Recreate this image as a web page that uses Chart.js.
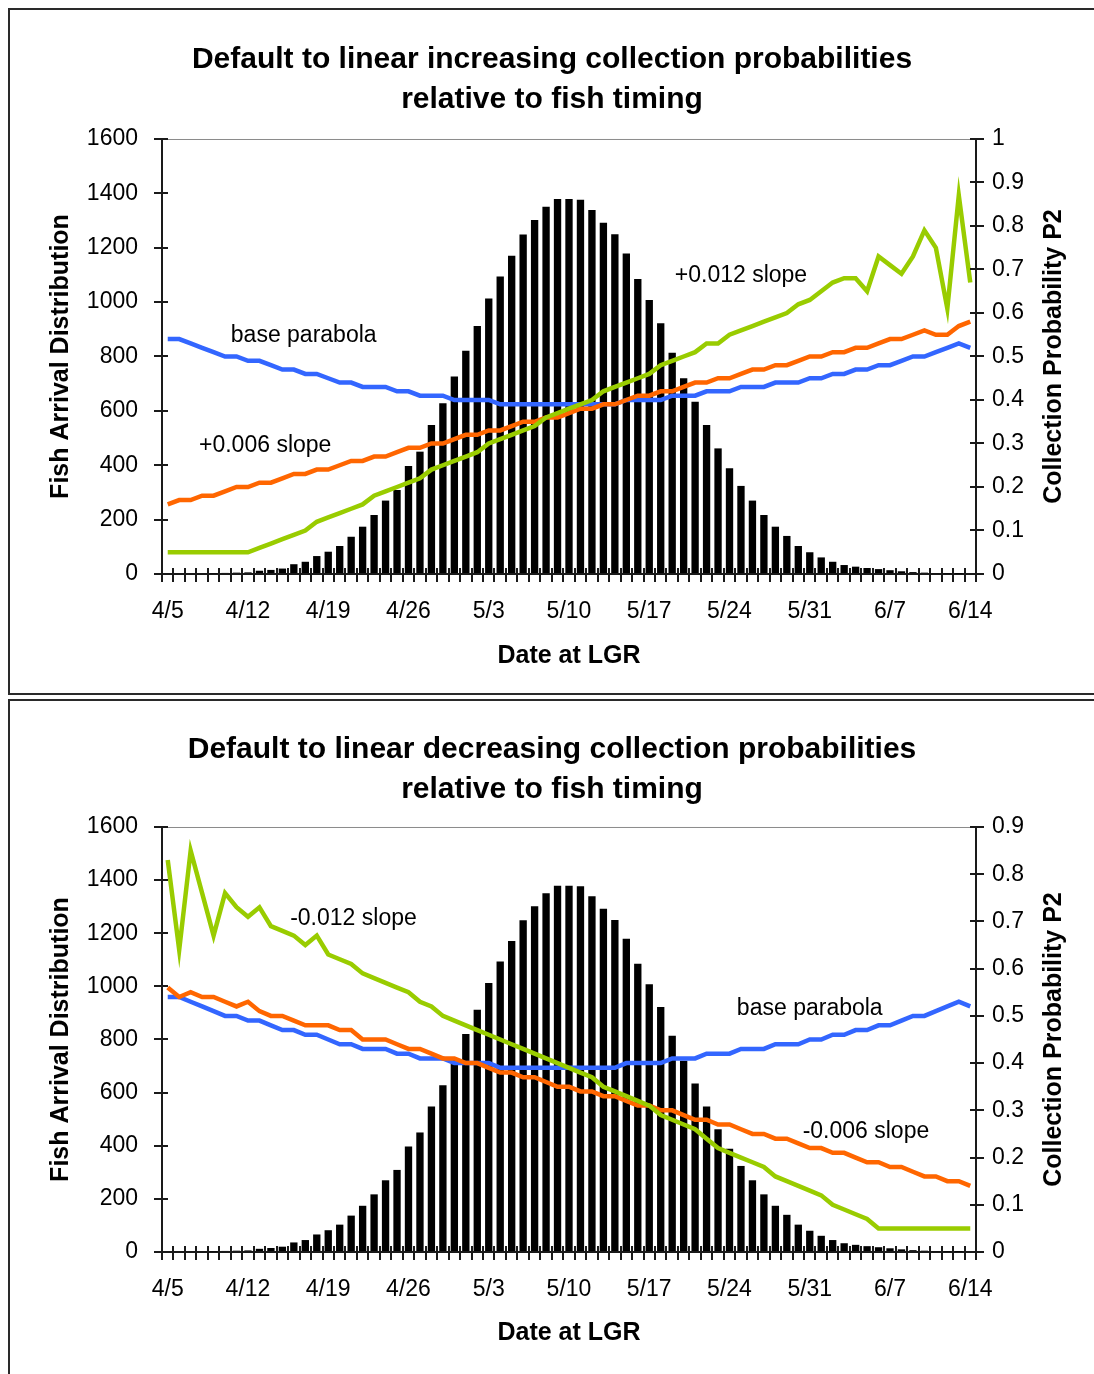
<!DOCTYPE html>
<html>
<head>
<meta charset="utf-8">
<title>Collection probabilities relative to fish timing</title>
<script src="https://cdn.jsdelivr.net/npm/chart.js@4.4.1/dist/chart.umd.min.js"></script>
<style>
  html, body { margin: 0; padding: 0; background: #fff; overflow: hidden; }
  body { width: 1094px; height: 1374px; position: relative; }
  .panel { position: absolute; left: 8px; width: 1100px; border: 2px solid #2a2a2a; box-sizing: border-box; background: #fff; }
  #panelTop { top: 8px; height: 687px; }
  #panelBottom { top: 699px; height: 700px; }
  canvas { position: absolute; left: 0; top: 0; }
</style>
</head>
<body>
<div class="panel" id="panelTop"><canvas id="chartTop" width="1084" height="683"></canvas></div>
<div class="panel" id="panelBottom"><canvas id="chartBottom" width="1084" height="673"></canvas></div>
<script>
// Dates at LGR, 4/5 .. 6/14 (one category per day)
const dateLabels = [
  '4/5','4/6','4/7','4/8','4/9','4/10','4/11','4/12','4/13','4/14','4/15','4/16','4/17','4/18','4/19',
  '4/20','4/21','4/22','4/23','4/24','4/25','4/26','4/27','4/28','4/29','4/30',
  '5/1','5/2','5/3','5/4','5/5','5/6','5/7','5/8','5/9','5/10','5/11','5/12','5/13','5/14','5/15',
  '5/16','5/17','5/18','5/19','5/20','5/21','5/22','5/23','5/24','5/25','5/26','5/27','5/28','5/29',
  '5/30','5/31',
  '6/1','6/2','6/3','6/4','6/5','6/6','6/7','6/8','6/9','6/10','6/11','6/12','6/13','6/14'
];

// Fish arrival distribution (bars, left axis) - same in both charts
const fishArrival = [
  0, 0, 0, 0, 2, 4, 5, 6, 12, 15,
  20, 36, 45, 66, 82, 103, 137, 174, 217, 270,
  309, 397, 450, 548, 628, 726, 821, 912, 1013, 1094,
  1171, 1249, 1302, 1351, 1379, 1379, 1377, 1339, 1292, 1250,
  1179, 1085, 1008, 922, 814, 720, 634, 548, 462, 389,
  324, 270, 217, 174, 140, 103, 80, 61, 45, 33,
  27, 22, 18, 14, 10, 7, 5, 3, 2, 1, 0
];

// Collection probability P2 (lines, right axis)
const baseParabola = [
  0.54, 0.54, 0.53, 0.52, 0.51, 0.50, 0.50, 0.49, 0.49, 0.48,
  0.47, 0.47, 0.46, 0.46, 0.45, 0.44, 0.44, 0.43, 0.43, 0.43,
  0.42, 0.42, 0.41, 0.41, 0.41, 0.40, 0.40, 0.40, 0.40, 0.39,
  0.39, 0.39, 0.39, 0.39, 0.39, 0.39, 0.39, 0.39, 0.39, 0.39,
  0.40, 0.40, 0.40, 0.40, 0.41, 0.41, 0.41, 0.42, 0.42, 0.42,
  0.43, 0.43, 0.43, 0.44, 0.44, 0.44, 0.45, 0.45, 0.46, 0.46,
  0.47, 0.47, 0.48, 0.48, 0.49, 0.50, 0.50, 0.51, 0.52, 0.53, 0.52
];

const plus006 = [
  0.16, 0.17, 0.17, 0.18, 0.18, 0.19, 0.20, 0.20, 0.21, 0.21,
  0.22, 0.23, 0.23, 0.24, 0.24, 0.25, 0.26, 0.26, 0.27, 0.27,
  0.28, 0.29, 0.29, 0.30, 0.30, 0.31, 0.32, 0.32, 0.33, 0.33,
  0.34, 0.35, 0.35, 0.36, 0.36, 0.37, 0.38, 0.38, 0.39, 0.39,
  0.40, 0.41, 0.41, 0.42, 0.42, 0.43, 0.44, 0.44, 0.45, 0.45,
  0.46, 0.47, 0.47, 0.48, 0.48, 0.49, 0.50, 0.50, 0.51, 0.51,
  0.52, 0.52, 0.53, 0.54, 0.54, 0.55, 0.56, 0.55, 0.55, 0.57, 0.58
];

const plus012 = [
  0.05, 0.05, 0.05, 0.05, 0.05, 0.05, 0.05, 0.05, 0.06, 0.07,
  0.08, 0.09, 0.10, 0.12, 0.13, 0.14, 0.15, 0.16, 0.18, 0.19,
  0.20, 0.21, 0.22, 0.24, 0.25, 0.26, 0.27, 0.28, 0.30, 0.31,
  0.32, 0.33, 0.34, 0.36, 0.37, 0.38, 0.39, 0.40, 0.42, 0.43,
  0.44, 0.45, 0.46, 0.48, 0.49, 0.50, 0.51, 0.53, 0.53, 0.55,
  0.56, 0.57, 0.58, 0.59, 0.60, 0.62, 0.63, 0.65, 0.67, 0.68,
  0.68, 0.65, 0.73, 0.71, 0.69, 0.73, 0.79, 0.75, 0.61, 0.87, 0.67
];

const minus006 = [
  0.56, 0.54, 0.55, 0.54, 0.54, 0.53, 0.52, 0.53, 0.51, 0.50,
  0.50, 0.49, 0.48, 0.48, 0.48, 0.47, 0.47, 0.45, 0.45, 0.45,
  0.44, 0.43, 0.43, 0.42, 0.41, 0.41, 0.40, 0.40, 0.39, 0.38,
  0.38, 0.37, 0.37, 0.36, 0.35, 0.35, 0.34, 0.34, 0.33, 0.33,
  0.32, 0.31, 0.31, 0.30, 0.30, 0.29, 0.28, 0.28, 0.27, 0.27,
  0.26, 0.25, 0.25, 0.24, 0.24, 0.23, 0.22, 0.22, 0.21, 0.21,
  0.20, 0.19, 0.19, 0.18, 0.18, 0.17, 0.16, 0.16, 0.15, 0.15, 0.14
];

const minus012 = [
  0.83, 0.64, 0.85, 0.76, 0.67, 0.76, 0.73, 0.71, 0.73, 0.69,
  0.68, 0.67, 0.65, 0.67, 0.63, 0.62, 0.61, 0.59, 0.58, 0.57,
  0.56, 0.55, 0.53, 0.52, 0.50, 0.49, 0.48, 0.47, 0.46, 0.45,
  0.44, 0.43, 0.42, 0.41, 0.40, 0.39, 0.38, 0.37, 0.35, 0.34,
  0.33, 0.32, 0.31, 0.29, 0.28, 0.27, 0.26, 0.24, 0.22, 0.21,
  0.20, 0.19, 0.18, 0.16, 0.15, 0.14, 0.13, 0.12, 0.10, 0.09,
  0.08, 0.07, 0.05, 0.05, 0.05, 0.05, 0.05, 0.05, 0.05, 0.05, 0.05
];

const blue = '#3366ff';
const orange = '#ff6600';
const green = '#99cc00';
const axisColor = '#1a1a1a';
const fontFamily = '"Liberation Sans", Arial, Helvetica, sans-serif';

Chart.defaults.font.family = fontFamily;
Chart.defaults.color = '#000';

// inward half of the crossing tick marks + thin frame line on top of the plot
const crossTicks = {
  id: 'crossTicks',
  afterDraw(chart) {
    const { ctx, chartArea } = chart;
    const x = chart.scales.x, y = chart.scales.y, y1 = chart.scales.y1;
    ctx.save();
    ctx.strokeStyle = '#8a8a8a';
    ctx.lineWidth = 1;
    ctx.beginPath();
    ctx.moveTo(chartArea.left, chartArea.top + 0.5);
    ctx.lineTo(chartArea.right, chartArea.top + 0.5);
    ctx.stroke();
    ctx.strokeStyle = axisColor;
    ctx.lineWidth = 2;
    ctx.beginPath();
    for (let i = 0; i <= x.ticks.length; i++) {
      const px = Math.round(x.getPixelForValue(i - 0.5));
      ctx.moveTo(px, x.top);
      ctx.lineTo(px, x.top - 6);
    }
    y.ticks.forEach((t, i) => {
      const py = Math.round(y.getPixelForTick(i));
      ctx.moveTo(y.right, py);
      ctx.lineTo(y.right + 6, py);
    });
    y1.ticks.forEach((t, i) => {
      const py = Math.round(y1.getPixelForTick(i));
      ctx.moveTo(y1.left, py);
      ctx.lineTo(y1.left - 6, py);
    });
    ctx.stroke();
    ctx.restore();
  }
};

// curve labels and the right-hand axis title (reads bottom to top)
const curveNotes = {
  id: 'curveNotes',
  afterDatasetsDraw(chart, args, opts) {
    const { ctx, chartArea } = chart;
    const x = chart.scales.x, y1 = chart.scales.y1;
    ctx.save();
    ctx.fillStyle = '#000';
    ctx.textAlign = 'center';
    ctx.textBaseline = 'middle';
    ctx.font = '23px ' + fontFamily;
    opts.notes.forEach(n => {
      ctx.fillText(n.text, x.getPixelForValue(n.at), y1.getPixelForValue(n.value));
    });
    ctx.translate(chartArea.right + opts.sideOffset, (chartArea.top + chartArea.bottom) / 2);
    ctx.rotate(-Math.PI / 2);
    ctx.font = 'bold 25px ' + fontFamily;
    ctx.fillText(opts.sideTitle, 0, 0);
    ctx.restore();
  }
};

function lineSet(label, data, color, order) {
  return {
    type: 'line', label: label, data: data, yAxisID: 'y1',
    borderColor: color, backgroundColor: color, borderWidth: 4.5,
    pointRadius: 0, tension: 0, fill: false, order: order
  };
}

function buildChart(canvasId, spec) {
  const tickFont = { size: 23 };
  const axisTitleFont = { size: 25, weight: 'bold' };
  return new Chart(document.getElementById(canvasId), {
    type: 'bar',
    data: {
      labels: dateLabels,
      datasets: [
        {
          type: 'bar', label: 'Fish arrival', data: fishArrival, yAxisID: 'y',
          backgroundColor: '#000', borderWidth: 0,
          barPercentage: 0.64, categoryPercentage: 1, order: 4
        },
        lineSet('base parabola', baseParabola, blue, 3),
        lineSet(spec.orangeLabel, spec.orange, orange, 2),
        lineSet(spec.greenLabel, spec.green, green, 1)
      ]
    },
    options: {
      responsive: false,
      animation: false,
      layout: { padding: 0 },
      plugins: {
        legend: { display: false },
        tooltip: { enabled: false },
        title: {
          display: true,
          text: spec.title,
          color: '#000',
          font: { size: 30, weight: 'bold', lineHeight: 1.3333 },
          padding: { top: spec.titleTop, bottom: spec.titleBottom }
        },
        curveNotes: { notes: spec.notes, sideTitle: 'Collection Probability P2', sideOffset: 78 }
      },
      scales: {
        x: {
          offset: true,
          grid: { offset: true, drawOnChartArea: false, drawTicks: true, tickLength: 8, color: axisColor, lineWidth: 2 },
          border: { color: axisColor, width: 2 },
          ticks: {
            autoSkip: false, maxRotation: 0, minRotation: 0, padding: 16, font: tickFont, color: '#000',
            callback: (v, i) => (i % 7 === 0 ? dateLabels[i] : '')
          },
          title: { display: true, text: 'Date at LGR', font: axisTitleFont, color: '#000', padding: { top: 0, bottom: spec.xTitleBottom } },
          afterFit: s => { s.height = spec.xAxisHeight; }
        },
        y: {
          position: 'left',
          min: 0, max: 1600,
          grid: { drawOnChartArea: false, tickLength: 8, color: axisColor, lineWidth: 2 },
          border: { color: axisColor, width: 2 },
          ticks: { stepSize: 200, padding: 16, font: tickFont, color: '#000', callback: v => String(v) },
          title: { display: true, text: 'Fish Arrival Distribution', font: axisTitleFont, color: '#000', padding: { top: 36, bottom: 0 } },
          afterFit: s => { s.width = 152; }
        },
        y1: {
          position: 'right',
          min: 0, max: spec.probMax,
          grid: { drawOnChartArea: false, tickLength: 8, color: axisColor, lineWidth: 2 },
          border: { color: axisColor, width: 2 },
          ticks: { stepSize: 0.1, padding: 8, font: tickFont, color: '#000', callback: v => Number(v.toFixed(1)).toString() },
          afterFit: s => { s.width = 118; }
        }
      }
    },
    plugins: [crossTicks, curveNotes]
  });
}

buildChart('chartTop', {
  title: ['Default to linear increasing collection probabilities', 'relative to fish timing'],
  titleTop: 30, titleBottom: 19,
  xAxisHeight: 119, xTitleBottom: 22,
  probMax: 1,
  orangeLabel: '+0.006 slope', orange: plus006,
  greenLabel: '+0.012 slope', green: plus012,
  notes: [
    { text: 'base parabola', at: 11.86, value: 0.549 },
    { text: '+0.006 slope', at: 8.5, value: 0.296 },
    { text: '+0.012 slope', at: 50.0, value: 0.685 }
  ]
});

buildChart('chartBottom', {
  title: ['Default to linear decreasing collection probabilities', 'relative to fish timing'],
  titleTop: 29, titleBottom: 17,
  xAxisHeight: 122, xTitleBottom: 26,
  probMax: 0.9,
  orangeLabel: '-0.006 slope', orange: minus006,
  greenLabel: '-0.012 slope', green: minus012,
  notes: [
    { text: '-0.012 slope', at: 16.2, value: 0.706 },
    { text: 'base parabola', at: 56.0, value: 0.515 },
    { text: '-0.006 slope', at: 60.9, value: 0.254 }
  ]
});
</script>
</body>
</html>
